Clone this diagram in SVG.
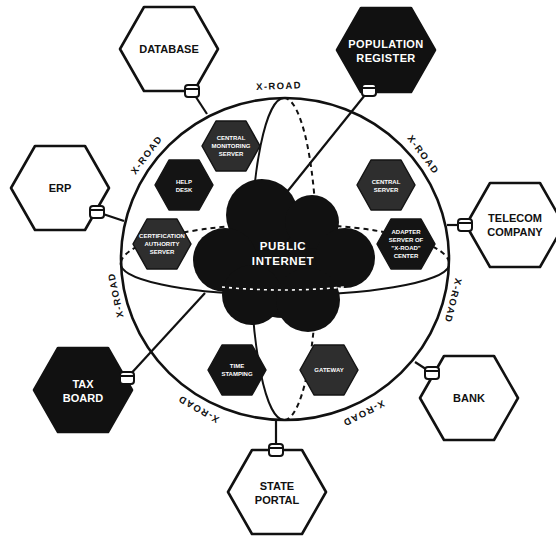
<svg xmlns="http://www.w3.org/2000/svg" xmlns:xlink="http://www.w3.org/1999/xlink" width="556" height="538" viewBox="0 0 556 538">
<defs>
<style>
.bg{fill:#ffffff}
.hexW{fill:#ffffff;stroke:#111;stroke-width:2.6;stroke-linejoin:round}
.hexB{fill:#111;stroke:#111;stroke-width:2.6;stroke-linejoin:round}
.hexIn{fill:#141414;stroke:#141414;stroke-width:1.5;stroke-linejoin:round}
.hexIn2{fill:#2e2e2e;stroke:#141414;stroke-width:1.5;stroke-linejoin:round}
.ring{fill:none;stroke:#111;stroke-width:2.6}
.solid{fill:none;stroke:#111;stroke-width:2}
.dash{fill:none;stroke:#111;stroke-width:2;stroke-dasharray:5 4}
.wdash{fill:none;stroke:#fff;stroke-width:1.6;stroke-dasharray:3 4}
.conn{fill:none;stroke:#111;stroke-width:2.2}
.box{fill:#fff;stroke:#111;stroke-width:2}
.lblB{font-family:"Liberation Sans",Arial,sans-serif;font-weight:bold;font-size:11px;fill:#111;text-anchor:middle}
.lblW{font-family:"Liberation Sans",Arial,sans-serif;font-weight:bold;font-size:11px;fill:#fff;text-anchor:middle}
.inT{font-family:"Liberation Sans",Arial,sans-serif;font-weight:bold;font-size:6px;fill:#fff;text-anchor:middle}
.xr{font-family:"Liberation Sans",Arial,sans-serif;font-weight:bold;font-size:9.5px;fill:#111;text-anchor:middle;letter-spacing:1.4px}
.cloud{fill:#111}
</style>
<polygon id="hexO" points="-49,0 -25,-42 25,-42 49,0 25,42 -25,42"/>
<polygon id="hexI" points="-29,0 -15,-25 15,-25 29,0 15,25 -15,25"/>
<g id="plug"><rect x="-7" y="-6" width="14" height="12" rx="3"/><line x1="-6" y1="-2" x2="6" y2="-2" stroke="#111" stroke-width="2"/></g>
</defs>
<rect class="bg" x="0" y="0" width="556" height="538"/>

<!-- globe structure -->
<g id="globe">
<path class="dash" d="M121,262 A164,40 0 0 1 449,266"/>
<path class="dash" d="M284,98 A33,161 0 0 1 284,420"/>
<ellipse class="ring" cx="285" cy="259" rx="164" ry="161"/>
<path class="solid" d="M121,262 A164,31 0 0 0 449,266"/>
<path class="solid" d="M284,98 A33,161 0 0 0 284,420"/>
</g>

<!-- connectors -->
<g id="connectors">
<line class="conn" x1="192" y1="91" x2="207" y2="114"/>
<line class="conn" x1="369" y1="90" x2="287" y2="192"/>
<line class="conn" x1="97" y1="212" x2="124" y2="221"/>
<line class="conn" x1="465" y1="225" x2="447" y2="225"/>
<line class="conn" x1="432" y1="373" x2="415" y2="362"/>
<line class="conn" x1="276" y1="450" x2="276" y2="420"/>
<line class="conn" x1="127" y1="378" x2="205" y2="293"/>
</g>

<!-- X-ROAD labels -->
<g id="xroad-labels">
<text class="xr" x="285" y="89" transform="rotate(-2 285 259)">X-ROAD</text>
<text class="xr" x="285" y="89" transform="rotate(53 285 259)">X-ROAD</text>
<text class="xr" x="285" y="89" transform="rotate(104 285 259)">X-ROAD</text>
<text class="xr" x="285" y="89" transform="rotate(153 285 259)">X-ROAD</text>
<text class="xr" x="285" y="89" transform="rotate(210 285 259)">X-ROAD</text>
<text class="xr" x="285" y="89" transform="rotate(258 285 259)">X-ROAD</text>
<text class="xr" x="285" y="89" transform="rotate(307 285 259)">X-ROAD</text>
</g>

<!-- cloud -->
<g id="public-internet">
<g class="cloud">
<circle cx="283" cy="260" r="58"/>
<circle cx="262" cy="215" r="36"/>
<circle cx="312" cy="222" r="27"/>
<circle cx="345" cy="258" r="30"/>
<circle cx="225" cy="260" r="32"/>
<circle cx="252" cy="295" r="30"/>
<circle cx="308" cy="300" r="32"/>
</g>
<path class="wdash" d="M222,287 Q283,293 344,287"/>
<text class="lblW" x="283" y="250" style="font-size:11.5px;letter-spacing:0.6px">PUBLIC</text>
<text class="lblW" x="283" y="265" style="font-size:11.5px;letter-spacing:0.6px">INTERNET</text>
</g>

<!-- inner hexagons -->
<g id="central-monitoring" transform="translate(231,146)">
<use xlink:href="#hexI" class="hexIn2"/>
<text class="inT" y="-6">CENTRAL</text><text class="inT" y="2">MONITORING</text><text class="inT" y="10">SERVER</text>
</g>
<g id="help-desk" transform="translate(184,185)">
<use xlink:href="#hexI" class="hexIn"/>
<text class="inT" y="-1">HELP</text><text class="inT" y="7">DESK</text>
</g>
<g id="certification" transform="translate(162,244)">
<use xlink:href="#hexI" class="hexIn2"/>
<text class="inT" y="-6">CERTIFICATION</text><text class="inT" y="2">AUTHORITY</text><text class="inT" y="10">SERVER</text>
</g>
<g id="central-server" transform="translate(386,185)">
<use xlink:href="#hexI" class="hexIn2"/>
<text class="inT" y="-1">CENTRAL</text><text class="inT" y="7">SERVER</text>
</g>
<g id="adapter-server" transform="translate(406,244)">
<use xlink:href="#hexI" class="hexIn"/>
<text class="inT" y="-10">ADAPTER</text><text class="inT" y="-2">SERVER OF</text><text class="inT" y="6">"X-ROAD"</text><text class="inT" y="14">CENTER</text>
</g>
<g id="time-stamping" transform="translate(237,370)">
<use xlink:href="#hexI" class="hexIn"/>
<text class="inT" y="-2">TIME</text><text class="inT" y="6">STAMPING</text>
</g>
<g id="gateway" transform="translate(329,370)">
<use xlink:href="#hexI" class="hexIn2"/>
<text class="inT" y="2">GATEWAY</text>
</g>

<!-- outer hexagons -->
<g id="database" transform="translate(169,49)">
<use xlink:href="#hexO" class="hexW"/>
<text class="lblB" y="4">DATABASE</text>
</g>
<g id="population-register" transform="translate(386,50)">
<use xlink:href="#hexO" class="hexB"/>
<text class="lblW" y="-2" style="letter-spacing:0.4px">POPULATION</text>
<text class="lblW" y="12" style="letter-spacing:0.4px">REGISTER</text>
</g>
<g id="erp" transform="translate(60,188)">
<use xlink:href="#hexO" class="hexW"/>
<text class="lblB" y="4">ERP</text>
</g>
<g id="telecom-company" transform="translate(515,225)">
<use xlink:href="#hexO" class="hexW"/>
<text class="lblB" y="-3">TELECOM</text>
<text class="lblB" y="11">COMPANY</text>
</g>
<g id="bank" transform="translate(469,398)">
<use xlink:href="#hexO" class="hexW"/>
<text class="lblB" y="4">BANK</text>
</g>
<g id="state-portal" transform="translate(277,492)">
<use xlink:href="#hexO" class="hexW"/>
<text class="lblB" y="-2">STATE</text>
<text class="lblB" y="12">PORTAL</text>
</g>
<g id="tax-board" transform="translate(83,390)">
<use xlink:href="#hexO" class="hexB"/>
<text class="lblW" y="-2">TAX</text>
<text class="lblW" y="12">BOARD</text>
</g>

<!-- security server boxes -->
<g id="security-servers">
<use xlink:href="#plug" class="box" transform="translate(192,91)"/>
<use xlink:href="#plug" class="box" transform="translate(369,90)"/>
<use xlink:href="#plug" class="box" transform="translate(97,212)"/>
<use xlink:href="#plug" class="box" transform="translate(465,225)"/>
<use xlink:href="#plug" class="box" transform="translate(432,373)"/>
<use xlink:href="#plug" class="box" transform="translate(276,450)"/>
<use xlink:href="#plug" class="box" transform="translate(127,378)"/>
</g>
</svg>
